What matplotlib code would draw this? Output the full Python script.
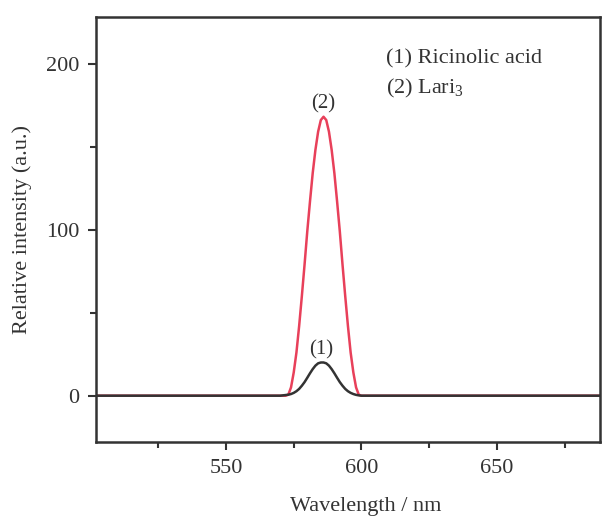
import matplotlib
matplotlib.use("Agg")
import matplotlib.pyplot as plt
from matplotlib.ticker import MultipleLocator

plt.rcParams["font.family"] = ["Liberation Serif", "DejaVu Serif"]
plt.rcParams["mathtext.fontset"] = "custom"
plt.rcParams["mathtext.rm"] = "Liberation Serif"

# wavelength grid (nm): flat baseline, peak region every 1 nm
wl = [502, 520, 540, 560, 570, 572, 573, 574, 575, 576, 577, 578, 579, 580,
      581, 582, 583, 584, 585, 586, 587, 588, 589, 590, 591, 592, 593, 594,
      595, 596, 597, 598, 599, 600, 620, 640, 660, 688]

# (1) Ricinolic acid
ricinolic = [0, 0, 0, 0, 0, 0.4, 0.6, 1.0, 1.7, 2.7, 4.1, 6.0, 8.2, 10.8,
             13.5, 16.0, 18.1, 19.5, 20.0, 20.0, 19.5, 18.1, 16.0, 13.5, 10.8,
             8.2, 6.0, 4.1, 2.7, 1.7, 1.0, 0.5, 0.2, 0, 0, 0, 0, 0]

# (2) Lari3
lari = [0, 0, 0, 0, 0, 0, 0.6, 5, 14, 26, 42, 60, 79, 99, 117, 134, 148,
        159, 166, 168, 166, 159, 148, 134, 117, 99, 79, 60, 42, 26, 14, 5,
        0.6, 0, 0, 0, 0, 0]

fig = plt.figure(figsize=(6.03, 5.19), dpi=100)
ax = fig.add_axes([0.159, 0.148, 0.836, 0.819])

ax.plot(wl, lari, color="#e8405a", lw=1.8)
ax.plot(wl, ricinolic, color="#333333", lw=1.8)

ax.set_xlim(502, 688)
ax.set_ylim(-28, 228)
ax.xaxis.set_major_locator(MultipleLocator(50))
ax.xaxis.set_minor_locator(MultipleLocator(25))
ax.yaxis.set_major_locator(MultipleLocator(100))
ax.yaxis.set_minor_locator(MultipleLocator(50))
ax.tick_params(which="both", direction="out", color="#333333", width=1.5,
               labelsize=16, labelcolor="#333333")
ax.tick_params(which="major", length=6, pad=6)
ax.tick_params(which="minor", length=4)
for s in ax.spines.values():
    s.set_color("#333333")
    s.set_linewidth(1.8)

ax.set_xlabel("Wavelength / nm", fontsize=16, color="#333333")
ax.xaxis.set_label_coords(0.535, -0.13)
ax.set_ylabel("Relative intensity (a.u.)", fontsize=16, color="#333333", labelpad=10)

ax.text(586, 170, "(2)", ha="center", va="bottom", fontsize=15, color="#333333")
ax.text(585, 22, "(1)", ha="center", va="bottom", fontsize=15, color="#333333")
ax.text(609, 203, "(1) Ricinolic acid", ha="left", va="center", fontsize=16, color="#333333")
ax.text(609, 185, "(2) Lari$_{3}$", ha="left", va="center", fontsize=16, color="#333333")

fig.savefig("out.png", dpi=100, facecolor="white")
